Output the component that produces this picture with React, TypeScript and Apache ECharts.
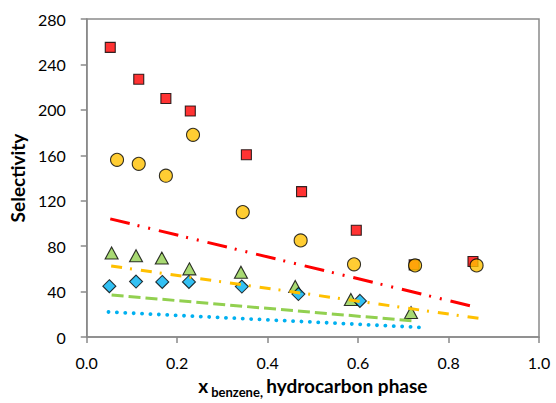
import React, { useEffect, useRef } from "react";
import * as echarts from "echarts";

// Measured points (x = mole fraction benzene in hydrocarbon phase, y = selectivity)
const redX = [0.052, 0.115, 0.175, 0.229, 0.353, 0.475, 0.596, 0.724, 0.854];
const redY = [255, 227, 210, 199, 160.5, 128, 94, 63.5, 66.5];
const yellowX = [0.067, 0.115, 0.175, 0.235, 0.345, 0.473, 0.591, 0.726, 0.862];
const yellowY = [156, 152.5, 142, 178, 110, 85, 64, 63, 63];
const greenX = [0.055, 0.109, 0.166, 0.227, 0.341, 0.461, 0.584, 0.717];
const greenY = [74, 71.5, 69.5, 60, 57, 44.5, 33, 21.5];
const blueX = [0.05, 0.109, 0.167, 0.226, 0.343, 0.468, 0.604];
const blueY = [44.7, 48.8, 48.5, 48.5, 44.4, 37.8, 31.8];

// Predicted (model) lines: start and end points
const redLineX = [0.052, 0.863];
const redLineY = [104, 26];
const yellowLineX = [0.054, 0.874];
const yellowLineY = [62.5, 16];
const greenLineX = [0.055, 0.718];
const greenLineY = [37, 14.3];
const blueLineX = [0.048, 0.736];
const blueLineY = [22, 8.5];

const xTicks = [0, 0.2, 0.4, 0.6, 0.8, 1.0];
const yTicks = [0, 40, 80, 120, 160, 200, 240, 280];

const zip = (xs: number[], ys: number[]) => xs.map((x, i) => [x, ys[i]]);

const FONT = "Lato, 'Noto Sans', sans-serif";
const AXIS_COLOR = "#8a8a8a";

export default function App() {
  const ref = useRef<HTMLDivElement>(null);
  useEffect(() => {
    document.body.style.margin = "0";
    document.body.style.overflow = "hidden";
    if (!ref.current) return;
    const chart = echarts.init(ref.current, undefined, { renderer: "svg" });
    const scatter = (name: string, xs: number[], ys: number[], symbol: string, size: any, color: string, z: number) => ({
      name,
      type: "scatter",
      data: zip(xs, ys),
      symbol,
      symbolSize: size,
      z,
      itemStyle: { color, borderColor: "#000", borderWidth: 1.1 },
    });
    const line = (name: string, xs: number[], ys: number[], color: string, dash: number[], z: number, cap = "butt", width = 3) => ({
      name,
      type: "line",
      data: zip(xs, ys),
      symbol: "none",
      z,
      lineStyle: { color, width, type: dash, cap },
    });
    chart.setOption({
      animation: false,
      grid: {
        left: 78,
        top: 19,
        width: 461,
        height: 320,
        show: true,
        borderColor: AXIS_COLOR,
        borderWidth: 1.5,
        backgroundColor: "transparent",
      },
      xAxis: {
        type: "value",
        min: xTicks[0],
        max: xTicks[xTicks.length - 1],
        interval: 0.2,
        axisLine: { show: true, lineStyle: { color: AXIS_COLOR, width: 1.5 } },
        axisTick: { show: true, inside: false, length: 6, lineStyle: { color: AXIS_COLOR, width: 1.5 } },
        splitLine: { show: false },
        axisLabel: {
          margin: 17,
          fontSize: 16,
          fontFamily: FONT,
          color: "#000",
          formatter: (v: number) => v.toFixed(1),
        },
        name: "{x|x}{sub|benzene,} {b|hydrocarbon phase}",
        nameLocation: "middle",
        nameGap: 39,
        nameTextStyle: {
          rich: {
            x: { fontSize: 19, fontWeight: "bold", fontFamily: FONT, color: "#000", lineHeight: 22, verticalAlign: "top" },
            sub: { fontSize: 13, fontWeight: "bold", fontFamily: FONT, color: "#000", lineHeight: 12, padding: [9, 0, 0, 3], verticalAlign: "top" },
            b: { fontSize: 19, fontWeight: "bold", fontFamily: FONT, color: "#000", lineHeight: 22, verticalAlign: "top" },
          },
        },
      },
      yAxis: {
        type: "value",
        min: yTicks[0],
        max: yTicks[yTicks.length - 1],
        interval: 40,
        axisLine: { show: true, lineStyle: { color: AXIS_COLOR, width: 1.5 } },
        axisTick: { show: true, inside: false, length: 6, lineStyle: { color: AXIS_COLOR, width: 1.5 } },
        splitLine: { show: false },
        axisLabel: { margin: 21, fontSize: 16, fontFamily: FONT, color: "#000" },
        name: "Selectivity",
        nameLocation: "middle",
        nameGap: 48,
        nameTextStyle: { fontSize: 19, fontWeight: "bold", fontFamily: FONT, color: "#000" },
      },
      series: [
        scatter("red", redX, redY, "rect", 10, "#FF0000", 2),
        scatter("yellow", yellowX, yellowY, "circle", 13, "#FFC000", 3),
        scatter("green", greenX, greenY, "triangle", [13, 12], "#92D050", 4),
        scatter("blue", blueX, blueY, "diamond", 13, "#00B0F0", 5),
        line("redLine", redLineX, redLineY, "#FF0000", [20, 8, 2, 9, 2, 9], 6),
        line("yellowLine", yellowLineX, yellowLineY, "#FFC000", [11, 8, 2, 9], 6),
        line("greenLine", greenLineX, greenLineY, "#92D050", [12, 5], 6),
        line("blueLine", blueLineX, blueLineY, "#00B0F0", [0.1, 8.3], 6, "round", 3.8),
      ],
    });
    return () => chart.dispose();
  }, []);
  return <div ref={ref} style={{ width: 556, height: 403, overflow: "hidden" }} />;
}
